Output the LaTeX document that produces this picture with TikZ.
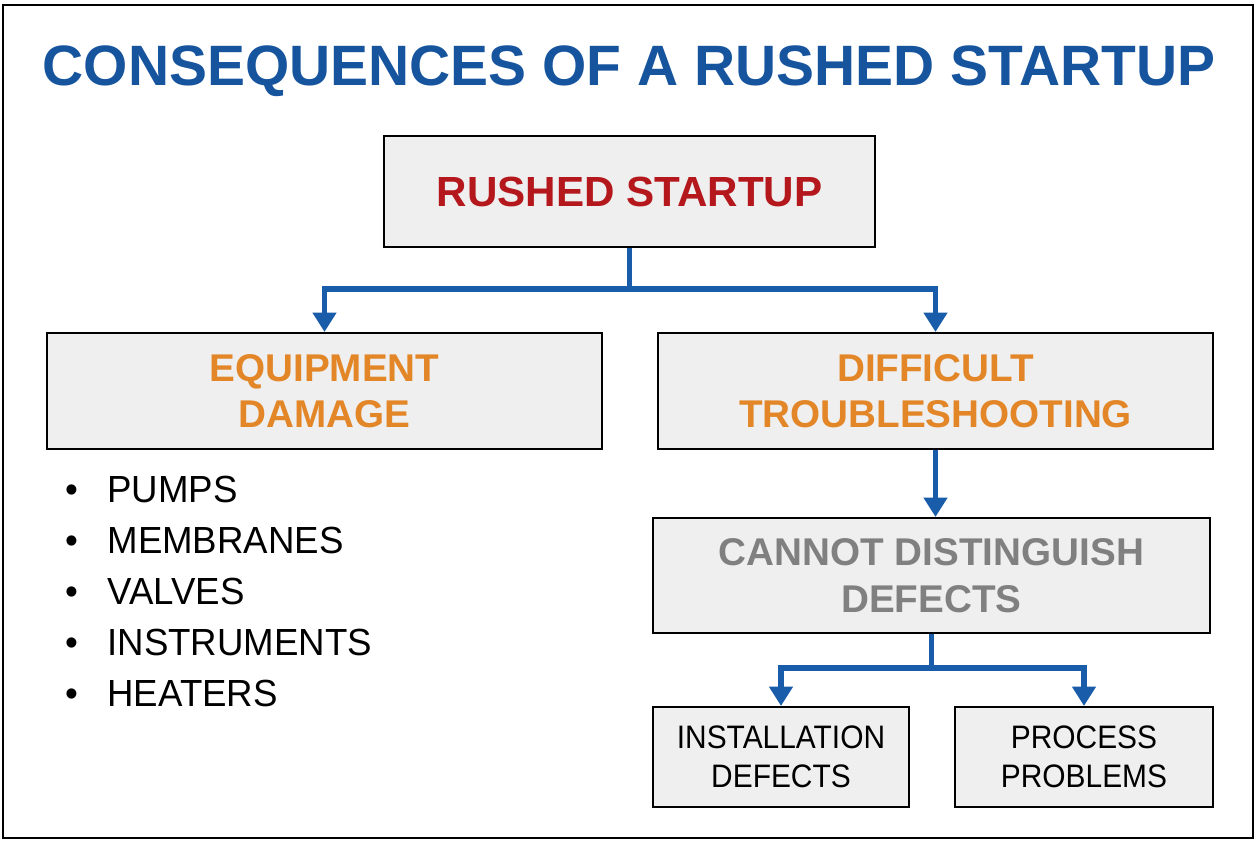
\documentclass[tikz,border=0pt]{standalone}
\usepackage{fontspec}
\setmainfont{Liberation Sans}
\newfontfamily\narrowsans[FakeStretch=0.92]{Liberation Sans}
\newfontfamily\listsans[FakeStretch=0.97]{Liberation Sans}
\usetikzlibrary{arrows.meta}

\definecolor{titleblue}{RGB}{22,84,158}
\definecolor{flowblue}{RGB}{24,92,170}
\definecolor{rushred}{RGB}{180,24,28}
\definecolor{warnorange}{RGB}{226,134,40}
\definecolor{mutedgray}{RGB}{128,128,128}
\definecolor{boxfill}{RGB}{239,239,239}

\tikzset{
    box/.style={draw=black, line width=1.2pt, fill=boxfill, align=center, inner sep=2pt},
    flow/.style={draw=flowblue, line width=3pt, -{Triangle[width=13pt,length=11pt]}},
    headtext/.style={font=\fontsize{22}{26.5}\selectfont\bfseries},
    smalltext/.style={font=\narrowsans\fontsize{18.5}{22.2}\selectfont},
    listitem/.style={anchor=base west, inner sep=0pt, font=\listsans\fontsize{21.5}{26}\selectfont}
}

\begin{document}
\begin{tikzpicture}[x=0.02cm, y=-0.02cm]
    % ---- Frame ----
    \useasboundingbox (0,0) rectangle (1259,845);
    \draw[line width=0.9pt] (3,5) rectangle (1253,838);

    % Title
    \node[anchor=base, text=titleblue, font=\fontsize{32.4}{38}\selectfont\bfseries] (title) at (629,85)
        {CONSEQUENCES OF A RUSHED STARTUP};

    % ---- Boxes ----
    \node[box, minimum width=9.82cm, minimum height=2.22cm, text=rushred,
        font=\fontsize{24}{28}\selectfont\bfseries] (rushed) at (629.5,191.5) {RUSHED STARTUP};

    \node[box, headtext, minimum width=11.1cm, minimum height=2.32cm, text=warnorange]
        (equip) at (324.5,391) {EQUIPMENT\\DAMAGE};
    \node[box, headtext, minimum width=11.1cm, minimum height=2.32cm, text=warnorange]
        (trouble) at (935.5,391) {DIFFICULT\\TROUBLESHOOTING};

    \node[box, headtext, minimum width=11.14cm, minimum height=2.3cm, text=mutedgray]
        (cannot) at (931.5,575.5) {CANNOT DISTINGUISH\\DEFECTS};

    \node[box, smalltext, minimum width=5.12cm, minimum height=2cm]
        (install) at (781,757) {INSTALLATION\\DEFECTS};
    \node[box, smalltext, minimum width=5.16cm, minimum height=2cm]
        (process) at (1084,757) {PROCESS\\PROBLEMS};

    % ---- Connectors ----
    \coordinate (split) at (629.5,289);
    \draw[flow] (rushed.south) -- (split) -| (equip.north);
    \draw[flow] (rushed.south) -- (split) -| (trouble.north);

    \draw[flow] (trouble.south) -- (trouble.south |- cannot.north);

    \coordinate (fork) at (931.5,668);
    \draw[flow] (cannot.south) -- (fork) -| (install.north);
    \draw[flow] (cannot.south) -- (fork) -| (process.north);

    % Damaged equipment list
    \foreach \part [count=\i] in {PUMPS,MEMBRANES,VALVES,INSTRUMENTS,HEATERS}
        \node[listitem] (item\i) at (65,{502+51*(\i-1)})
            {\makebox[24pt][l]{\textbullet}\part};
\end{tikzpicture}
\end{document}
